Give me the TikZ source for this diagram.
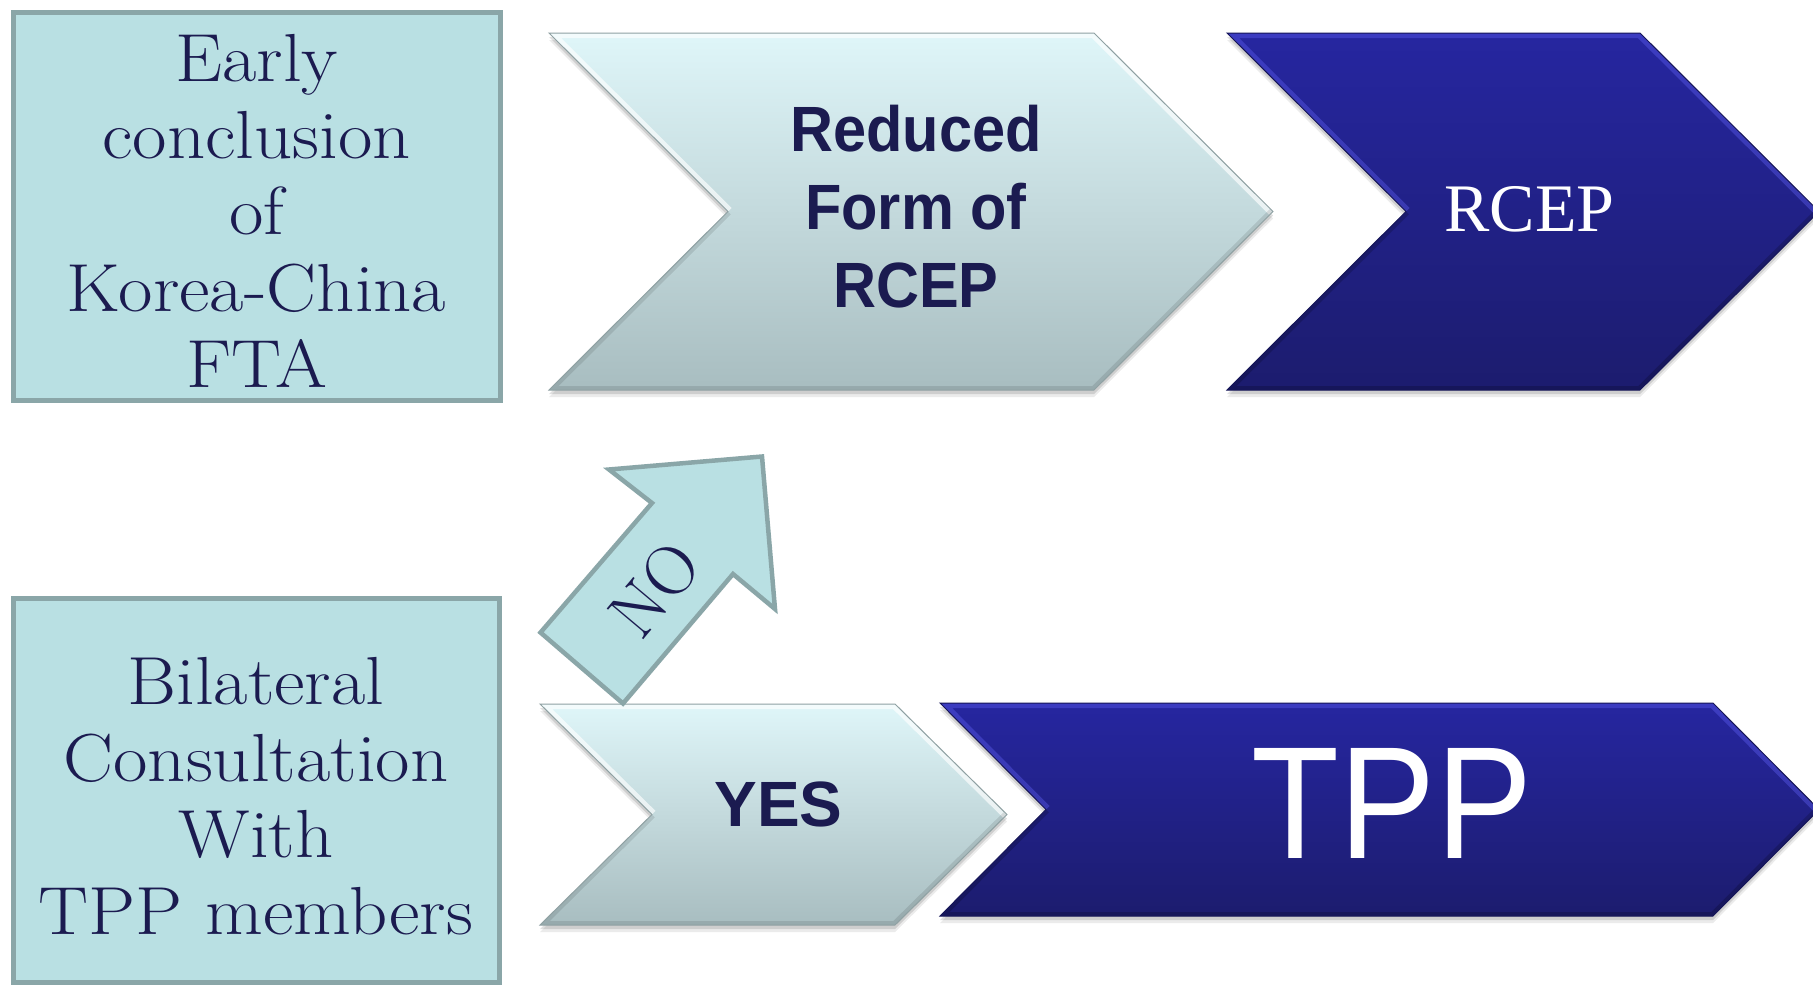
\documentclass[tikz,border=0pt]{standalone}
\usepackage{fontspec}
\newfontfamily\arialf{Liberation Sans}
\newfontfamily\timesf{Liberation Serif}
\usetikzlibrary{calc}
\definecolor{navytext}{RGB}{27,27,80}
\definecolor{boxfill}{RGB}{185,224,227}
\definecolor{boxline}{RGB}{138,166,168}
\definecolor{lighttop}{RGB}{223,246,249}
\definecolor{lightbot}{RGB}{168,189,192}
\definecolor{darktop}{RGB}{38,38,160}
\definecolor{darkbot}{RGB}{28,28,110}
\tikzset{
  boxshape/.style={draw=boxline, fill=boxfill, line width=5pt, line join=miter},
  boxtxt/.style={text=navytext, inner sep=0pt, align=center, xscale=1.1, font=\fontsize{68}{76.5}\selectfont},
  light shade/.style={top color=lighttop, bottom color=lightbot},
  light hi/.style={draw=white, opacity=.65, line width=10pt},
  light lo/.style={draw=black, opacity=.10, line width=8pt},
  light edge/.style={draw=lightbot!85!black, line width=1pt},
  dark shade/.style={top color=darktop, bottom color=darkbot},
  dark hi/.style={draw=blue!60!white, opacity=.35, line width=10pt},
  dark lo/.style={draw=black, opacity=.18, line width=8pt},
  dark edge/.style={draw=darkbot!80!black, line width=1pt},
}
% name, xl, xr, yt, yb, depth, type
\newcommand\chev[7]{%
  \pgfmathsetmacro\cym{(#4+#5)/2}%
  \pgfmathsetmacro\cxn{#2+#6}%
  \pgfmathsetmacro\cxt{#3+#6}%
  \coordinate (#1-tl) at (#2,#4);
  \coordinate (#1-tr) at (#3,#4);
  \coordinate (#1-tip) at (\cxt,\cym);
  \coordinate (#1-br) at (#3,#5);
  \coordinate (#1-bl) at (#2,#5);
  \coordinate (#1-notch) at (\cxn,\cym);
  \fill[black,opacity=.08] ([yshift=-7pt]#1-tl) -- ([yshift=-7pt]#1-tr) -- ([yshift=-7pt]#1-tip) -- ([yshift=-7pt]#1-br) -- ([yshift=-7pt]#1-bl) -- ([yshift=-7pt]#1-notch) -- cycle;
  \fill[black,opacity=.12] ([yshift=-4pt]#1-tl) -- ([yshift=-4pt]#1-tr) -- ([yshift=-4pt]#1-tip) -- ([yshift=-4pt]#1-br) -- ([yshift=-4pt]#1-bl) -- ([yshift=-4pt]#1-notch) -- cycle;
  \shade[#7 shade] (#1-tl) -- (#1-tr) -- (#1-tip) -- (#1-br) -- (#1-bl) -- (#1-notch) -- cycle;
  \begin{scope}
    \clip (#1-tl) -- (#1-tr) -- (#1-tip) -- (#1-br) -- (#1-bl) -- (#1-notch) -- cycle;
    \draw[#7 hi] (#1-notch) -- (#1-tl) -- (#1-tr) -- (#1-tip);
    \draw[#7 lo] (#1-notch) -- (#1-bl) -- (#1-br) -- (#1-tip);
  \end{scope}
  \draw[#7 edge, line join=miter] (#1-tl) -- (#1-tr) -- (#1-tip) -- (#1-br) -- (#1-bl) -- (#1-notch) -- cycle;
}
\begin{document}
\begin{tikzpicture}[x=1pt,y=-1pt]
\useasboundingbox (0,0) rectangle (1813,986);
\fill[white] (0,0) rectangle (1813,986);
\clip (0,0) rectangle (1813,986);

% left boxes
\node[boxshape, minimum width=487pt, minimum height=388pt, inner sep=0pt] (box1) at (256.6,206.4) {};
\node[boxshape, minimum width=486pt, minimum height=384pt, inner sep=0pt] (box2) at (256.5,790.2) {};
\node[boxtxt] (t1) at (256.6,211.3) {Early\\conclusion\\of\\Korea-China\\FTA};
\node[boxtxt] (t2) at (256,796.4) {Bilateral\\Consultation\\With\\TPP members};

% chevrons
\chev{cred}{549}{1094}{33}{390}{179}{light}
\chev{crcep}{1227}{1640}{33}{390}{179}{dark}
\chev{cyes}{540}{895}{704}{925}{112}{light}
\chev{ctpp}{940}{1713}{703}{916}{106}{dark}

\node[inner sep=0pt, text=navytext, align=center, xscale=.93,
      font=\arialf\bfseries\fontsize{64}{78}\selectfont] (reduced) at (916,206.6) {Reduced\\Form of\\RCEP};
\node[inner sep=0pt, text=white, anchor=base, font=\timesf\fontsize{68}{72}\selectfont] (rcep) at (1529.6,231) {RCEP};
\node[inner sep=0pt, text=navytext, anchor=base, font=\arialf\bfseries\fontsize{64}{70}\selectfont] (yes) at (778.5,826.5) {YES};
\node[inner sep=0pt, text=white, anchor=base, xscale=.9, font=\arialf\fontsize{160}{170}\selectfont] (tpp) at (1392,858) {TPP};

% NO arrow
\coordinate (na1) at (540.5,632.5);
\coordinate (na2) at (652,503);
\coordinate (na3) at (609,469.5);
\coordinate (na4) at (762,456.5);
\coordinate (na5) at (775,609);
\coordinate (na6) at (733,574);
\coordinate (na7) at (623,703.5);
\draw[boxshape, line width=4.5pt] (na1) -- (na2) -- (na3) -- (na4) -- (na5) -- (na6) -- (na7) -- cycle;
\node[inner sep=0pt, text=navytext, rotate=50, font=\fontsize{70}{74}\selectfont] (no) at (655,589) {NO};
\end{tikzpicture}
\end{document}
